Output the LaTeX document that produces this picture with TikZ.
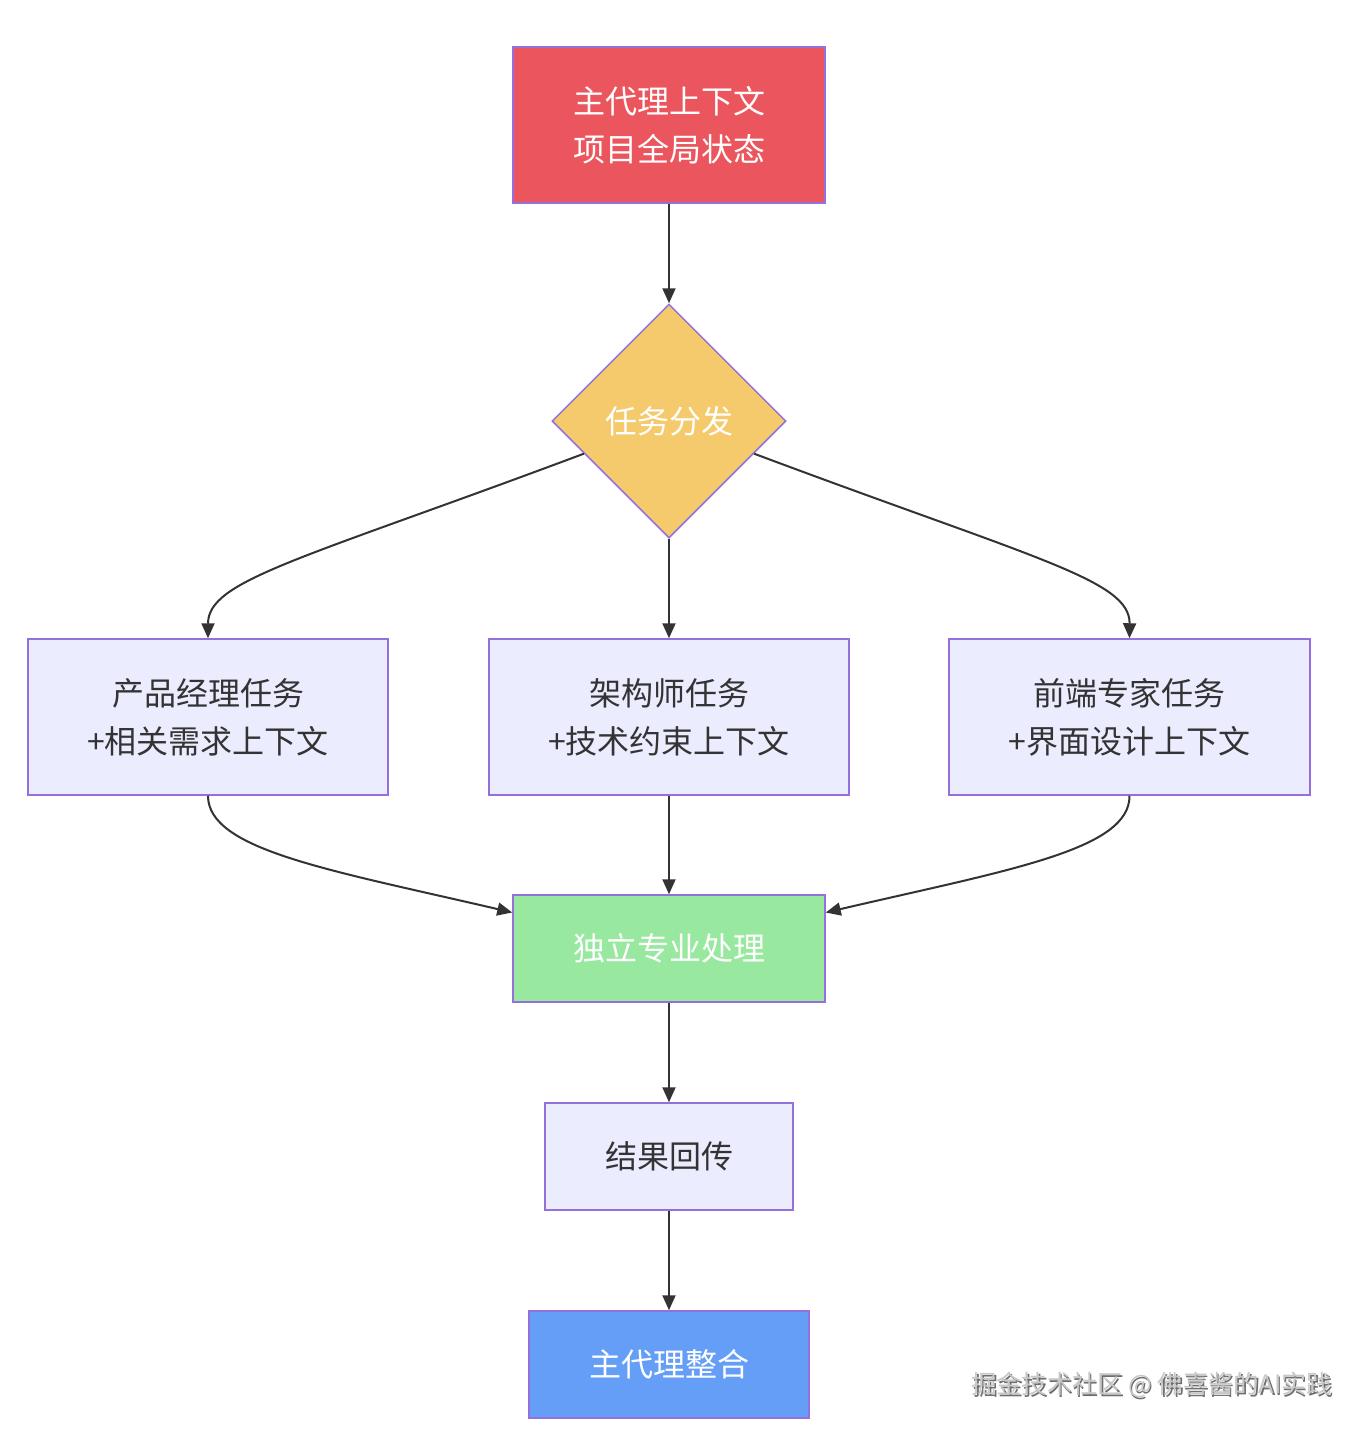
\documentclass[tikz,border=0pt]{standalone}
\usepackage{fontspec}
\setmainfont{Noto Sans CJK SC}
\usetikzlibrary{shapes.geometric,arrows.meta}
\definecolor{bord}{RGB}{147,112,219}
\definecolor{lav}{RGB}{236,236,255}
\definecolor{redf}{RGB}{235,86,94}
\definecolor{yelf}{RGB}{244,202,108}
\definecolor{grnf}{RGB}{152,232,160}
\definecolor{bluf}{RGB}{100,158,246}
\definecolor{txt}{RGB}{51,51,51}
\definecolor{wmgray}{RGB}{200,200,200}
\definecolor{wmdark}{RGB}{110,110,110}
\tikzset{
  boxbase/.style={draw=bord, line width=1.5pt, rectangle, inner sep=0pt, align=center,
    font=\fontsize{32}{48}\selectfont},
  lavbox/.style={boxbase, fill=lav, text=txt},
  conn/.style={draw=txt, line width=2pt, -{Triangle[length=15pt,width=13pt]}},
  wmstyle/.style={font=\fontsize{25.2}{30}\selectfont, anchor=east, inner sep=0pt},
}
\begin{document}
\begin{tikzpicture}[x=1pt,y=-1pt]
\useasboundingbox (0,0) rectangle (1368,1436);
\fill[white] (0,0) rectangle (1368,1436);

\node[boxbase, fill=redf, text=white, minimum width=312pt, minimum height=156pt] (ctx) at (669,125) {主代理上下文\\项目全局状态};
\node[draw=bord, line width=1.5pt, diamond, fill=yelf, text=white, inner sep=0pt, minimum width=234pt, minimum height=234pt, font=\fontsize{32}{48}\selectfont] (dsp) at (669,421) {任务分发};

\node[lavbox, minimum width=360pt, minimum height=156pt] (pm) at (208,717) {产品经理任务\\+相关需求上下文};
\node[lavbox, minimum width=360pt, minimum height=156pt] (arch) at (669,717) {架构师任务\\+技术约束上下文};
\node[lavbox, minimum width=361pt, minimum height=156pt] (fe) at (1129.5,717) {前端专家任务\\+界面设计上下文};

\node[boxbase, fill=grnf, text=white, minimum width=312pt, minimum height=107pt] (proc) at (669,948.5) {独立专业处理};
\node[lavbox, minimum width=248pt, minimum height=107pt] (ret) at (669,1156.5) {结果回传};
\node[boxbase, fill=bluf, text=white, minimum width=280pt, minimum height=107pt] (mrg) at (669,1364.5) {主代理整合};

\draw[conn] (ctx.south) -- (dsp.north);
\draw[conn] (dsp.south) -- (arch.north);
\draw[conn] (dsp.201) .. controls (300,560) and (208,580) .. (pm.north);
\draw[conn] (dsp.339) .. controls (1038,560) and (1130,580) .. (fe.north);
\draw[conn] (arch.south) -- (proc.north);
\draw[conn] (pm.south) .. controls (208,850) and (330,870) .. ([yshift=36pt]proc.west);
\draw[conn] (fe.south) .. controls (1130,850) and (1008,870) .. ([yshift=36pt]proc.east);
\draw[conn] (proc.south) -- (ret.north);
\draw[conn] (ret.south) -- (mrg.north);

\node[wmstyle, text=wmdark] (wmshadow) at (1333.5,1386.5) {掘金技术社区 @ 佛喜酱的AI实践};
\node[wmstyle, text=wmgray] (wm) at (1332,1385) {掘金技术社区 @ 佛喜酱的AI实践};
\end{tikzpicture}
\end{document}
